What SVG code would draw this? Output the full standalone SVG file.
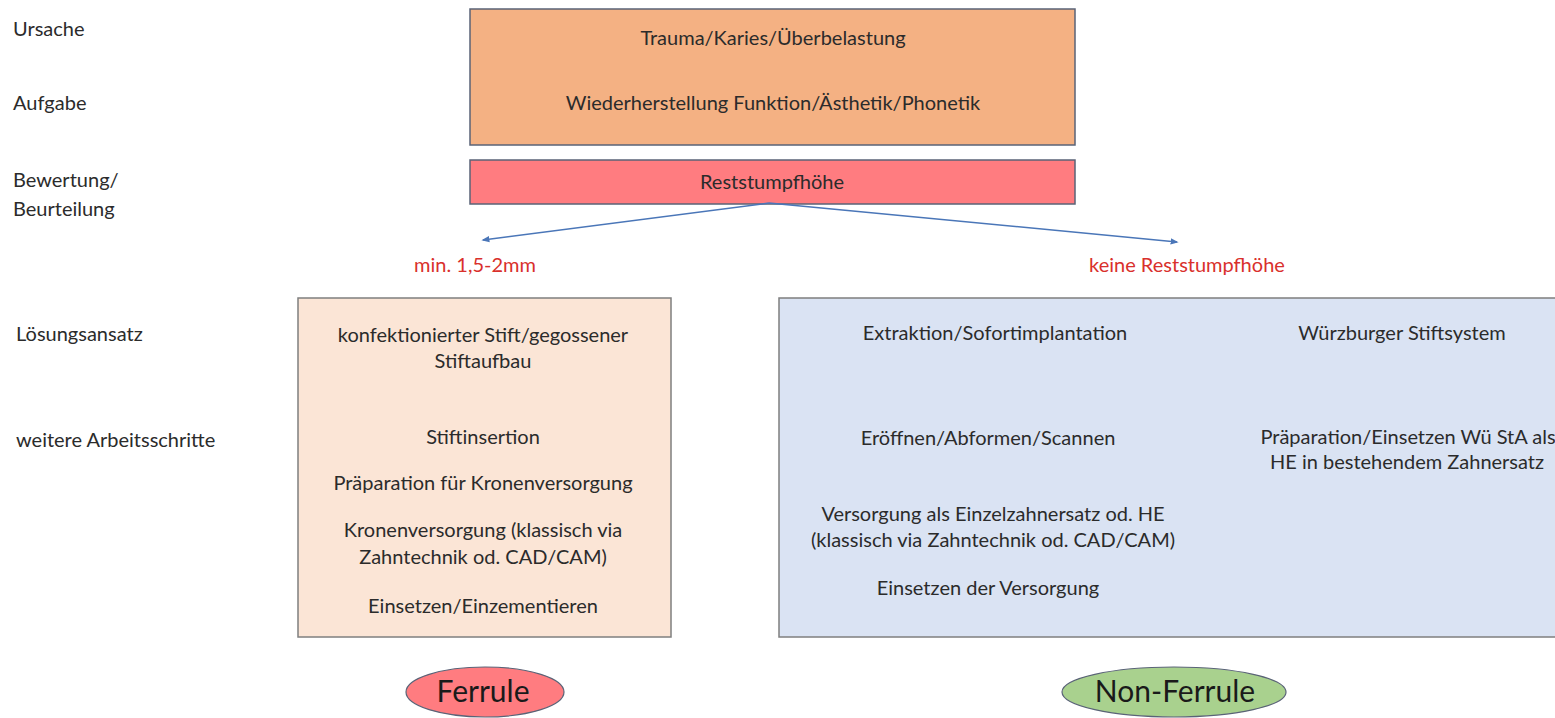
<svg xmlns="http://www.w3.org/2000/svg" width="1555" height="718" viewBox="0 0 1555 718">
<defs>
<style>
text{font-family:Lato,"Open Sans","Liberation Sans",sans-serif;font-size:20px;fill:#2b2b2b}
.c{text-anchor:middle}
.red{fill:#d9302c}
.big{font-size:30px;fill:#1a1a1a}
.conn{stroke:#4a76b8;stroke-width:1.5;fill:none}
</style>
<marker id="ah" viewBox="0 0 10 10" refX="8" refY="5" markerWidth="8" markerHeight="8" orient="auto-start-reverse" markerUnits="userSpaceOnUse">
<path d="M0,1 L10,5 L0,9 Z" fill="#4a76b8"/>
</marker>
</defs>
<rect width="1555" height="718" fill="#ffffff"/>
<g id="row-labels">
<text x="13" y="36">Ursache</text>
<text x="13" y="110">Aufgabe</text>
<text x="13" y="187">Bewertung/</text>
<text x="13" y="216">Beurteilung</text>
<text x="16" y="341">Lösungsansatz</text>
<text x="16" y="447">weitere Arbeitsschritte</text>
</g>
<g id="cause">
<rect x="470" y="9" width="605" height="136" fill="#f4b183" stroke="#5a6377" stroke-width="1.5"/>
<text class="c" x="773" y="45">Trauma/Karies/Überbelastung</text>
<text class="c" x="773" y="110">Wiederherstellung Funktion/Ästhetik/Phonetik</text>
</g>
<g id="assessment">
<rect x="470" y="160" width="605" height="44" fill="#ff7c80" stroke="#5a6377" stroke-width="1.5"/>
<text class="c" x="772" y="189">Reststumpfhöhe</text>
</g>
<g id="connectors">
<path class="conn" d="M769,203 L483,240" marker-end="url(#ah)"/>
<path class="conn" d="M769,203 L1177,242" marker-end="url(#ah)"/>
</g>
<g id="label-min">
<text class="c red" x="475" y="272">min. 1,5-2mm</text>
</g>
<g id="label-keine">
<text class="c red" x="1187" y="272">keine Reststumpfhöhe</text>
</g>
<g id="ferrule-box">
<rect x="298" y="298" width="373" height="339" fill="#fbe5d6" stroke="#7f7f7f" stroke-width="1.5"/>
<text class="c" x="483" y="342">konfektionierter  Stift/gegossener</text>
<text class="c" x="483" y="368">Stiftaufbau</text>
<text class="c" x="483" y="444">Stiftinsertion</text>
<text class="c" x="483" y="490">Präparation für Kronenversorgung</text>
<text class="c" x="483" y="537">Kronenversorgung (klassisch via</text>
<text class="c" x="483" y="564">Zahntechnik od. CAD/CAM)</text>
<text class="c" x="483" y="613">Einsetzen/Einzementieren</text>
</g>
<g id="nonferrule-box">
<rect x="779" y="298" width="790" height="339" fill="#dae3f3" stroke="#7f7f7f" stroke-width="1.5"/>
<text class="c" x="995" y="340">Extraktion/Sofortimplantation</text>
<text class="c" x="1402" y="340">Würzburger Stiftsystem</text>
<text class="c" x="988" y="445">Eröffnen/Abformen/Scannen</text>
<text class="c" x="993" y="521">Versorgung als Einzelzahnersatz od. HE</text>
<text class="c" x="993" y="547">(klassisch via Zahntechnik od. CAD/CAM)</text>
<text class="c" x="988" y="595">Einsetzen der Versorgung</text>
<text class="c" x="1408" y="444">Präparation/Einsetzen Wü StA als</text>
<text class="c" x="1407" y="469">HE in bestehendem Zahnersatz</text>
</g>
<g id="ferrule">
<ellipse cx="485" cy="692" rx="79" ry="25" fill="#ff7c80" stroke="#5a6377" stroke-width="1.2"/>
<text class="c big" x="483" y="702">Ferrule</text>
</g>
<g id="non-ferrule">
<ellipse cx="1174" cy="692" rx="112" ry="25" fill="#a9d18e" stroke="#5a6377" stroke-width="1.2"/>
<text class="c big" x="1175" y="702">Non-Ferrule</text>
</g>
</svg>
